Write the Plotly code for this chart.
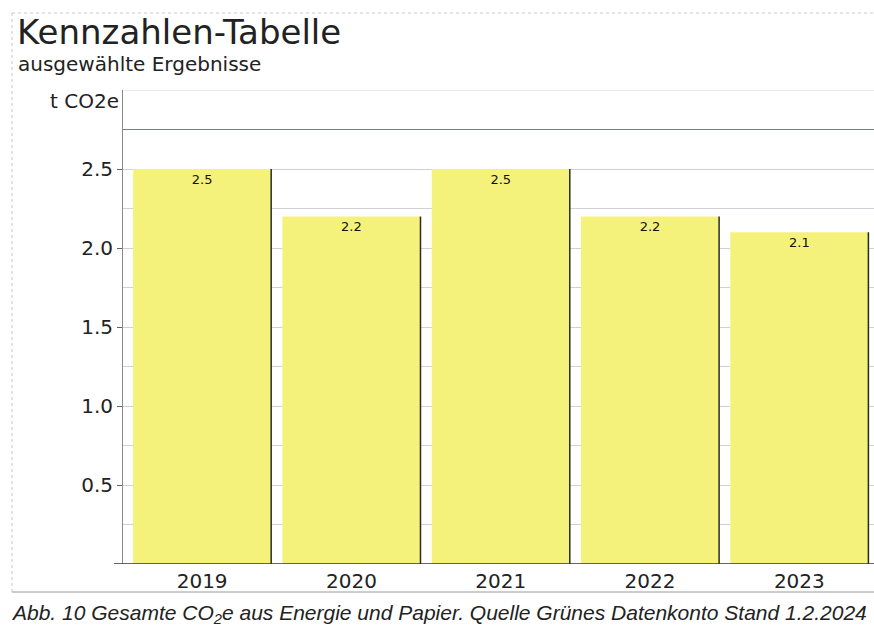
import plotly.graph_objects as go

# Kennzahlen: CO2e-Emissionen pro Jahr
years = ["2019", "2020", "2021", "2022", "2023"]
co2e = [2.5, 2.2, 2.5, 2.2, 2.1]
value_labels = ["2.5", "2.2", "2.5", "2.2", "2.1"]
y_ticks = [0.5, 1.0, 1.5, 2.0, 2.5]
y_tick_text = ["0.5", "1.0", "1.5", "2.0", "2.5"]

W, H = 874, 644
ML, MR, MT, MB = 123, 0, 90, 80
PH = H - MT - MB
PW = W - ML - MR


def py(px):
    """pixel row -> paper y"""
    return (H - MB - px) / PH


def px_(x):
    """pixel column -> paper x"""
    return (x - ML) / PW


BAR_COLOR = "#f5f27c"
BARGAP = 0.075
font = "DejaVu Sans, Verdana, sans-serif"

fig = go.Figure()
fig.add_trace(go.Bar(
    x=years, y=co2e,
    marker=dict(color=BAR_COLOR, line=dict(width=0)),
    text=value_labels, textposition="inside", insidetextanchor="end",
    textangle=0,
    textfont=dict(family=font, size=13, color="#111111"),
    cliponaxis=False,
    hoverinfo="skip",
))

shapes = []
# dark right edge on each bar
half = (1 - BARGAP) / 2
for i, v in enumerate(co2e):
    shapes.append(dict(type="line", xref="x", yref="y",
                       x0=i + half, x1=i + half, y0=0, y1=v,
                       line=dict(color="#2a2a2a", width=1.5), layer="above"))
# emphasised grid line and top border of the plot area
shapes.append(dict(type="line", xref="paper", yref="y", x0=0, x1=1, y0=2.75, y1=2.75,
                   line=dict(color="#767a84", width=1.2), layer="above"))
shapes.append(dict(type="line", xref="paper", yref="y", x0=0, x1=1, y0=3.0, y1=3.0,
                   line=dict(color="#cfd1d6", width=1), layer="above"))
# outer dotted frame and separator
shapes.append(dict(type="line", xref="paper", yref="paper",
                   x0=px_(12), x1=px_(874), y0=py(13), y1=py(13),
                   line=dict(color="#c8c8c8", width=1, dash="dot")))
shapes.append(dict(type="line", xref="paper", yref="paper",
                   x0=px_(12), x1=px_(12), y0=py(13), y1=py(592),
                   line=dict(color="#c8c8c8", width=1, dash="dot")))
shapes.append(dict(type="line", xref="paper", yref="paper",
                   x0=px_(12), x1=px_(874), y0=py(592), y1=py(592),
                   line=dict(color="#9a9a9a", width=1)))
# baseline extending past the axis
shapes.append(dict(type="line", xref="paper", yref="y",
                   x0=px_(114), x1=1, y0=0, y1=0,
                   line=dict(color="#333333", width=1.5)))

annotations = [
    dict(text="Kennzahlen-Tabelle", xref="paper", yref="paper",
         x=px_(15), y=py(54), xanchor="left", yanchor="bottom", showarrow=False,
         font=dict(family=font, size=34, color="#222222")),
    dict(text="ausgewählte Ergebnisse", xref="paper", yref="paper",
         x=px_(16), y=py(78), xanchor="left", yanchor="bottom", showarrow=False,
         font=dict(family=font, size=20, color="#222222")),
    dict(text="t CO2e", xref="paper", yref="paper",
         x=px_(121), y=py(101), xanchor="right", yanchor="middle", showarrow=False,
         font=dict(family=font, size=20, color="#222222")),
    dict(text="Abb. 10 Gesamte CO<sub>2</sub>e aus Energie und Papier. Quelle Grünes Datenkonto Stand 1.2.2024",
         xref="paper", yref="paper",
         x=px_(9), y=py(614), xanchor="left", yanchor="middle", showarrow=False,
         font=dict(family="Liberation Sans, Arial, sans-serif", size=21, color="#222222",
                   style="italic")),
]

fig.update_layout(
    width=W, height=H,
    margin=dict(l=ML, r=MR, t=MT, b=MB),
    paper_bgcolor="white", plot_bgcolor="white",
    bargap=BARGAP,
    showlegend=False,
    shapes=shapes,
    annotations=annotations,
    font=dict(family=font, color="#222222"),
    xaxis=dict(
        range=[-0.53, 4.5],
        showgrid=False, zeroline=False,
        showline=False,
        ticks="", tickfont=dict(family=font, size=20, color="#222222"),
        ticklabelstandoff=3,
    ),
    yaxis=dict(
        range=[0, 3.0],
        tickvals=y_ticks, ticktext=y_tick_text,
        tickfont=dict(family=font, size=20, color="#222222"),
        ticks="outside", ticklen=5, tickcolor="#666666",
        showline=True, linecolor="#8a8a8a", linewidth=1,
        showgrid=True, gridcolor="#cfd1d6", gridwidth=1,
        minor=dict(dtick=0.25, showgrid=True, gridcolor="#cfd1d6", ticks=""),
        zeroline=False,
    ),
)

fig.write_html("out.html")
